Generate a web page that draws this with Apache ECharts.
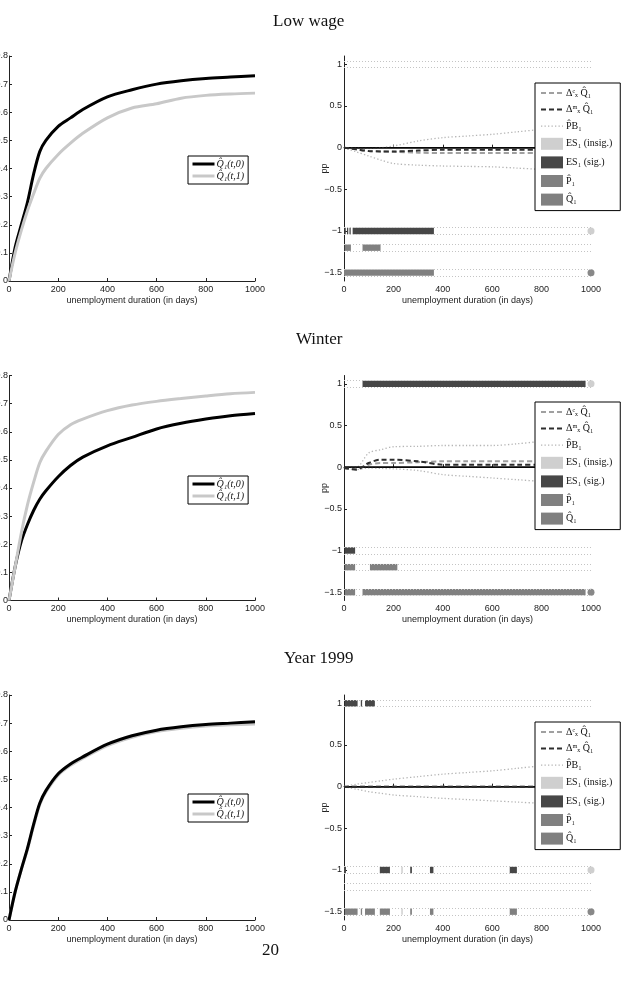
<!DOCTYPE html>
<html>
<head>
<meta charset="utf-8">
<script src="https://cdn.jsdelivr.net/npm/echarts@6/dist/echarts.min.js"></script>
<style>
  html, body { margin: 0; padding: 0; background: #fff; }
  #chart { width: 634px; height: 992px; }
</style>
</head>
<body>
<div id="chart"></div>
<script>
// ---- data ----
const panelTitles = ['Low wage', 'Winter', 'Year 1999']
const pageNumber = '20'

// left panels: cumulative exit curves
const tDays = [0, 25, 50, 75, 100, 125, 150, 200, 250, 300, 400, 500, 600, 700, 800, 900, 1000]
const lowQ0 = [0, 0.12, 0.20, 0.28, 0.38, 0.46, 0.50, 0.55, 0.58, 0.61, 0.655, 0.68, 0.70, 0.712, 0.72, 0.725, 0.73]
const lowQ1 = [0, 0.10, 0.18, 0.25, 0.31, 0.365, 0.40, 0.45, 0.49, 0.525, 0.58, 0.615, 0.63, 0.65, 0.66, 0.665, 0.668]
const winQ0 = [0, 0.12, 0.21, 0.27, 0.32, 0.36, 0.39, 0.44, 0.48, 0.51, 0.55, 0.58, 0.61, 0.63, 0.645, 0.657, 0.665]
const winQ1 = [0, 0.12, 0.24, 0.34, 0.42, 0.49, 0.53, 0.59, 0.625, 0.645, 0.675, 0.695, 0.708, 0.718, 0.727, 0.735, 0.74]
const y99Q0 = [0, 0.10, 0.18, 0.255, 0.34, 0.415, 0.46, 0.52, 0.555, 0.58, 0.625, 0.655, 0.675, 0.687, 0.695, 0.70, 0.705]
const y99Q1 = [0, 0.10, 0.18, 0.25, 0.335, 0.41, 0.455, 0.515, 0.55, 0.575, 0.62, 0.65, 0.67, 0.682, 0.69, 0.694, 0.697]

// right panels: effects and bounds
const tEff = [0, 50, 100, 150, 200, 300, 400, 500, 600, 700, 800, 900, 1000]
const lowDc = [0, -0.02, -0.04, -0.045, -0.05, -0.06, -0.065, -0.065, -0.065, -0.065, -0.065, -0.065, -0.065]
const lowDm = [0, -0.02, -0.04, -0.045, -0.045, -0.035, -0.025, -0.025, -0.025, -0.025, -0.025, -0.025, -0.025]
const lowPbUp = [0, -0.005, -0.01, 0, 0.02, 0.08, 0.12, 0.14, 0.16, 0.19, 0.22, 0.25, 0.27]
const lowPbLo = [0, -0.05, -0.1, -0.15, -0.19, -0.21, -0.22, -0.225, -0.23, -0.245, -0.26, -0.27, -0.28]
const winDc = [-0.01, -0.02, 0.03, 0.05, 0.05, 0.06, 0.07, 0.07, 0.07, 0.07, 0.07, 0.07, 0.07]
const winDm = [-0.01, -0.03, 0.05, 0.09, 0.09, 0.07, 0.03, 0.03, 0.03, 0.03, 0.03, 0.03, 0.03]
const winPbUp = [0, 0, 0.17, 0.21, 0.245, 0.25, 0.26, 0.26, 0.26, 0.28, 0.31, 0.33, 0.35]
const winPbLo = [0, -0.03, -0.01, -0.015, -0.02, -0.04, -0.09, -0.11, -0.13, -0.15, -0.17, -0.18, -0.19]
const y99Dc = [0, 0, 0, 0, 0, 0, 0, 0, 0, 0, 0, 0, 0]
const y99Dm = [0, 0, 0, 0, 0, 0, 0, 0, 0, 0, 0, 0, 0]
const y99PbUp = [0, 0.03, 0.05, 0.07, 0.09, 0.12, 0.15, 0.17, 0.19, 0.22, 0.25, 0.27, 0.29]
const y99PbLo = [0, -0.03, -0.06, -0.08, -0.1, -0.12, -0.14, -0.155, -0.17, -0.185, -0.2, -0.21, -0.22]

// significance rows: [start, end, row]
const rowLevels = [1, -1, -1.2, -1.5]
const lowSig = [[2, 6, -1], [12, 16, -1], [22, 27, -1], [35, 364, -1]]
const lowP = [[3, 28, -1.2], [75, 148, -1.2]]
const lowQ = [[0, 364, -1.5]]
const lowEndInsig = [[1000, -1]]
const lowEndQ = [[1000, -1.5]]
const winSig = [[75, 978, 1], [3, 45, -1]]
const winP = [[3, 45, -1.2], [105, 216, -1.2]]
const winQ = [[3, 45, -1.5], [75, 978, -1.5]]
const winEndInsig = [[1000, 1]]
const winEndQ = [[1000, -1.5]]
const y99Sig = [[3, 55, 1], [68, 73, 1], [85, 125, 1], [0, 8, -1], [145, 186, -1], [268, 275, -1], [348, 362, -1], [671, 700, -1]]
const y99Insig = [[232, 238, -1], [232, 238, -1.5]]
const y99P = []
const y99Q = [[3, 55, -1.5], [68, 73, -1.5], [85, 125, -1.5], [145, 186, -1.5], [268, 275, -1.5], [348, 362, -1.5], [671, 700, -1.5]]
const y99EndInsig = [[1000, -1]]
const y99EndQ = [[1000, -1.5]]

const ppTicks = [-1.5, -1, -0.5, 0, 0.5, 1]

// ---- names ----
const N_Q0 = 'Q̂₁(t,0)'
const N_Q1 = 'Q̂₁(t,1)'
const N_DC = 'Δᶜₓ Q̂₁'
const N_DM = 'Δᵐₓ Q̂₁'
const N_PB = 'P̂B₁'
const N_INS = 'ES₁ (insig.)'
const N_SIG = 'ES₁ (sig.)'
const N_P = 'P̂₁'
const N_Q = 'Q̂₁'

const C = {
  q0: '#000', q1: '#c8c8c8', dc: '#a0a0a0', dm: '#2e2e2e', pb: '#b5b5b5',
  insig: '#cfcfcf', sig: '#474747', p: '#808080', q: '#808080', axis: '#222'
}
const ROW_HALF = 0.042
const SANS = 'Liberation Sans'
const SERIF = 'Liberation Serif'
const HIDE_SYMBOL = { color: 'rgba(0,0,0,0)', borderWidth: 0, opacity: 0 }

const panels = [
  { q0: lowQ0, q1: lowQ1, dc: lowDc, dm: lowDm, up: lowPbUp, lo: lowPbLo, sig: lowSig, ins: [], p: lowP, q: lowQ, endIns: lowEndInsig, endQ: lowEndQ },
  { q0: winQ0, q1: winQ1, dc: winDc, dm: winDm, up: winPbUp, lo: winPbLo, sig: winSig, ins: [], p: winP, q: winQ, endIns: winEndInsig, endQ: winEndQ },
  { q0: y99Q0, q1: y99Q1, dc: y99Dc, dm: y99Dm, up: y99PbUp, lo: y99PbLo, sig: y99Sig, ins: y99Insig, p: y99P, q: y99Q, endIns: y99EndInsig, endQ: y99EndQ }
]

// ---- layout ----
const rowTops = [56, 375.5, 695]
const plotH = 225
const titleTops = [13, 331, 650]
const titleLefts = [273, 296, 284]

const pair = (xs, ys) => xs.map((x, i) => [x, ys[i]])

function segRenderer (color) {
  return function (params, api) {
    const a = api.coord([api.value(0), api.value(2)])
    const b = api.coord([api.value(1), api.value(2)])
    return {
      type: 'rect',
      shape: { x: a[0], y: a[1] - 3.2, width: Math.max(b[0] - a[0], 1.3), height: 6.4 },
      style: { fill: color }
    }
  }
}

const grid = []
const xAxis = []
const yAxis = []
const series = []
const legend = []
const title = []

const axisCommon = {
  axisLine: { show: true, lineStyle: { color: C.axis, width: 1 } },
  axisTick: { show: true, inside: true, length: 3, lineStyle: { color: C.axis } },
  splitLine: { show: false },
  axisLabel: { fontFamily: SANS, fontSize: 9, color: '#222', margin: 2, formatter: v => String(v) }
}

panels.forEach((pn, k) => {
  const top = rowTops[k]
  grid.push({ left: 9, top: top, width: 246, height: plotH, containLabel: false, outerBoundsMode: 'none' })
  grid.push({ left: 344, top: top, width: 247, height: plotH, containLabel: false, outerBoundsMode: 'none' })

  title.push({
    text: panelTitles[k], left: titleLefts[k], top: titleTops[k], padding: 0,
    textStyle: { fontFamily: SERIF, fontSize: 17, fontWeight: 'normal', color: '#111' }
  })

  for (let s = 0; s < 2; s++) {
    xAxis.push(Object.assign({}, axisCommon, {
      gridIndex: 2 * k + s, type: 'value', min: 0, max: 1000, interval: 200,
      axisLabel: Object.assign({}, axisCommon.axisLabel, { margin: 4 }),
      name: 'unemployment duration (in days)', nameLocation: 'middle', nameGap: 15, nameMoveOverlap: false,
      nameTextStyle: { fontFamily: SANS, fontSize: 9, color: '#222' }
    }))
  }
  yAxis.push(Object.assign({}, axisCommon, {
    gridIndex: 2 * k, type: 'value', min: 0, max: 0.8, interval: 0.1,
    axisLabel: Object.assign({}, axisCommon.axisLabel, { margin: 1 })
  }))
  yAxis.push(Object.assign({}, axisCommon, {
    gridIndex: 2 * k + 1, type: 'value', min: -1.6, max: 1.1,
    axisTick: Object.assign({}, axisCommon.axisTick, { customValues: ppTicks }),
    axisLabel: Object.assign({}, axisCommon.axisLabel, {
      customValues: ppTicks,
      formatter: v => (v < 0 ? '\u2212' + Math.abs(v) : String(v))
    }),
    name: 'pp', nameLocation: 'middle', nameRotate: 90, nameGap: 15, nameMoveOverlap: false,
    nameTextStyle: { fontFamily: SANS, fontSize: 9, color: '#222' }
  }))

  const L = 2 * k
  const R = 2 * k + 1

  // left panel curves
  series.push({
    name: N_Q0, type: 'line', xAxisIndex: L, yAxisIndex: L, data: pair(tDays, pn.q0),
    smooth: 0.3, symbol: 'none', lineStyle: { color: C.q0, width: 3 }, itemStyle: { color: C.q0 }, z: 3
  })
  series.push({
    name: N_Q1, type: 'line', xAxisIndex: L, yAxisIndex: L, data: pair(tDays, pn.q1),
    smooth: 0.3, symbol: 'none', lineStyle: { color: C.q1, width: 3 }, itemStyle: { color: C.q1 }, z: k === 2 ? 2 : 4
  })

  // right panel
  series.push({
    name: N_DC, type: 'line', xAxisIndex: R, yAxisIndex: R, data: pair(tEff, pn.dc),
    smooth: 0.3, symbol: 'none', lineStyle: { color: C.dc, width: 2, type: [5, 3] }, itemStyle: { color: C.dc }, z: 4
  })
  series.push({
    name: N_DM, type: 'line', xAxisIndex: R, yAxisIndex: R, data: pair(tEff, pn.dm),
    smooth: 0.3, symbol: 'none', lineStyle: { color: C.dm, width: 2, type: [5, 3] }, itemStyle: { color: C.dm }, z: 5,
    markLine: {
      silent: true, symbol: ['none', 'none'], label: { show: false },
      lineStyle: { color: '#000', type: 'solid', width: 1.5 },
      data: [{ yAxis: 0 }]
    }
  })
  ;[pn.up, pn.lo].forEach(b => {
    series.push({
      name: N_PB, type: 'line', xAxisIndex: R, yAxisIndex: R, data: pair(tEff, b),
      smooth: 0.3, symbol: 'none', lineStyle: { color: C.pb, width: 1.3, type: [1.3, 2.2] }, itemStyle: { color: C.pb }, z: 2
    })
  })
  // insignificant rows: dotted outlines + end markers
  series.push({
    name: N_INS, type: 'line', xAxisIndex: R, yAxisIndex: R, data: pn.endIns,
    symbol: 'circle', symbolSize: 7, showSymbol: true, clip: true,
    lineStyle: { color: C.insig, width: 0 }, itemStyle: { color: C.insig }, z: 2,
    markLine: {
      silent: true, symbol: ['none', 'none'], label: { show: false },
      lineStyle: { color: '#c4c4c4', type: [1, 2], width: 1 },
      data: rowLevels.flatMap(v => [{ yAxis: v + ROW_HALF }, { yAxis: v - ROW_HALF }])
    }
  })
  series.push({
    name: 'insig-seg', type: 'custom', xAxisIndex: R, yAxisIndex: R, data: pn.ins,
    renderItem: segRenderer(C.insig), encode: { x: [0, 1], y: 2 }, z: 3
  })
  series.push({
    name: N_SIG, type: 'custom', xAxisIndex: R, yAxisIndex: R, data: pn.sig,
    renderItem: segRenderer(C.sig), encode: { x: [0, 1], y: 2 }, itemStyle: { color: C.sig }, z: 3
  })
  series.push({
    name: N_P, type: 'custom', xAxisIndex: R, yAxisIndex: R, data: pn.p,
    renderItem: segRenderer(C.p), encode: { x: [0, 1], y: 2 }, itemStyle: { color: C.p }, z: 3
  })
  series.push({
    name: N_Q, type: 'custom', xAxisIndex: R, yAxisIndex: R, data: pn.q,
    renderItem: segRenderer(C.q), encode: { x: [0, 1], y: 2 }, itemStyle: { color: C.q }, z: 3
  })
  series.push({
    name: 'q-end', type: 'scatter', xAxisIndex: R, yAxisIndex: R, data: pn.endQ,
    symbol: 'circle', symbolSize: 7, clip: true, itemStyle: { color: '#6a6a6a' }, z: 3
  })

  // legends
  legend.push({
    orient: 'vertical', left: 188, top: [156, 476, 794][k], padding: [3, 4, 3, 3],
    itemWidth: 22, itemHeight: 10, itemGap: 2, selectedMode: false,
    backgroundColor: '#fff', borderColor: '#000', borderWidth: 1, borderRadius: 0,
    lineStyle: { width: 'inherit' },
    textStyle: { fontFamily: SERIF, fontSize: 10, fontStyle: 'italic', color: '#111', padding: [0, 0, 0, -3] },
    data: [
      { name: N_Q0, itemStyle: HIDE_SYMBOL },
      { name: N_Q1, itemStyle: HIDE_SYMBOL }
    ],
    z: 10
  })
  legend.push({
    orient: 'vertical', left: 535, top: [83, 402, 722][k], padding: [5, 8, 5, 5],
    itemWidth: 22, itemHeight: 12, itemGap: 6.6, selectedMode: false,
    backgroundColor: '#fff', borderColor: '#000', borderWidth: 1, borderRadius: 0,
    lineStyle: { width: 'inherit' },
    textStyle: { fontFamily: SERIF, fontSize: 10, color: '#111', padding: [0, 0, 0, -2] },
    data: [
      { name: N_DC, itemStyle: HIDE_SYMBOL },
      { name: N_DM, itemStyle: HIDE_SYMBOL },
      { name: N_PB, itemStyle: HIDE_SYMBOL },
      { name: N_INS, icon: 'rect', itemStyle: { color: C.insig } },
      { name: N_SIG, icon: 'rect', itemStyle: { color: C.sig } },
      { name: N_P, icon: 'rect', itemStyle: { color: C.p } },
      { name: N_Q, icon: 'rect', itemStyle: { color: C.q } }
    ],
    z: 10
  })
})

title.push({
  text: pageNumber, left: 262, top: 942, padding: 0,
  textStyle: { fontFamily: SERIF, fontSize: 17, fontWeight: 'normal', color: '#111' }
})

const chart = echarts.init(document.getElementById('chart'))
chart.setOption({
  backgroundColor: '#fff',
  animation: false,
  title: title,
  legend: legend,
  grid: grid,
  xAxis: xAxis,
  yAxis: yAxis,
  series: series
})
</script>
</body>
</html>
